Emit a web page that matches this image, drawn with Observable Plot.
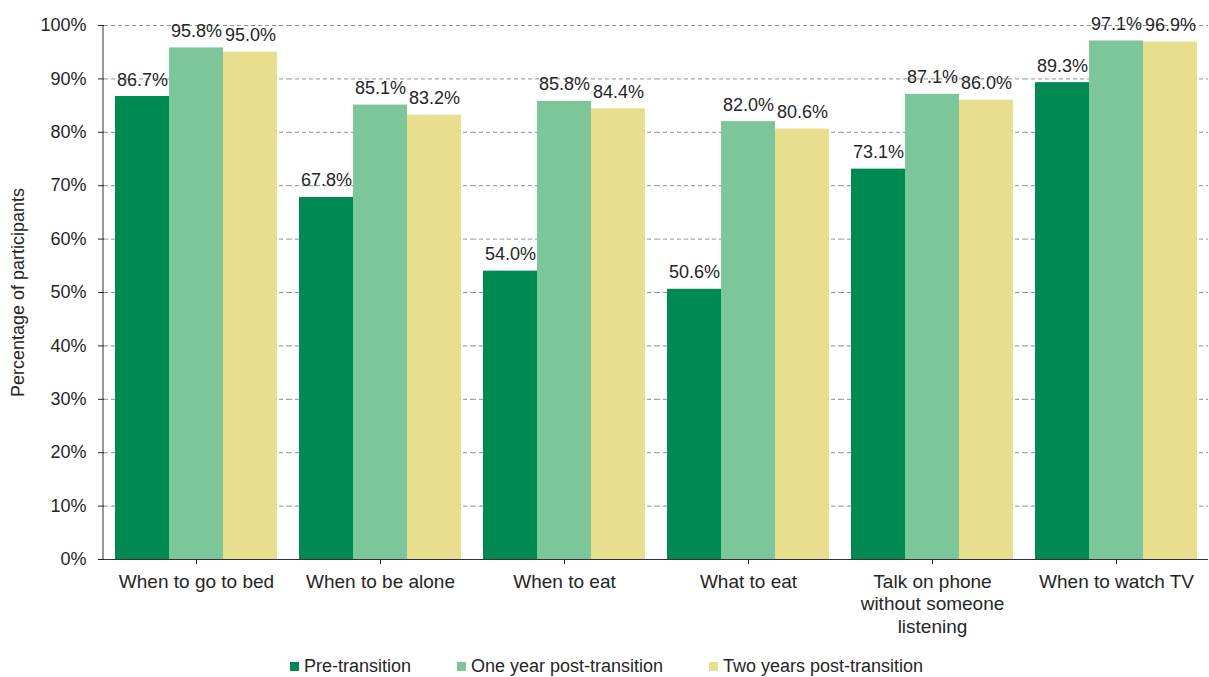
<!DOCTYPE html>
<html><head><meta charset="utf-8">
<script src="https://cdn.jsdelivr.net/npm/d3@7"></script>
<script src="https://cdn.jsdelivr.net/npm/@observablehq/plot@0.6"></script>
<style>
html,body{margin:0;padding:0;background:#fff;overflow:hidden}
body{font-family:"Liberation Sans",Arial,sans-serif;color:#262626}
#legend{display:flex;justify-content:center;gap:46px;font-size:18px;height:26px;align-items:center;padding-left:4px;margin-top:3px}
.item{display:flex;align-items:center}
.sw{width:9px;height:9px;margin-right:5px;display:inline-block}
</style></head><body><div id="chart"></div><div id="legend"></div>
<script>
const categories = ["When to go to bed", "When to be alone", "When to eat", "What to eat", "Talk on phone\nwithout someone\nlistening", "When to watch TV"];
const series = ["Pre-transition", "One year post-transition", "Two years post-transition"];
const preTransition = [86.7, 67.8, 54.0, 50.6, 73.1, 89.3];
const oneYearPost = [95.8, 85.1, 85.8, 82.0, 87.1, 97.1];
const twoYearsPost = [95.0, 83.2, 84.4, 80.6, 86.0, 96.9];
const yTicks = [0, 10, 20, 30, 40, 50, 60, 70, 80, 90, 100];
const colors = ["#008a52", "#7cc699", "#e8df8e"];

const seriesValues = [preTransition, oneYearPost, twoYearsPost];
const data = [];
categories.forEach((c, i) => seriesValues.forEach((arr, j) => data.push({category: c, series: series[j], value: arr[i]})));

const marginLeft = 103;
const textColor = "#262626";

const chart = Plot.plot({
  width: 1209, height: 650,
  marginLeft, marginRight: 0, marginTop: 25, marginBottom: 91,
  style: {fontFamily: "'Liberation Sans', Arial, sans-serif", fontSize: "18px", color: textColor, background: "#fff", overflow: "visible"},
  fx: {domain: categories, padding: 0, label: null},
  x: {domain: series, paddingInner: 0, paddingOuter: 0.173, axis: null},
  y: {domain: [0, 100], label: null},
  color: {domain: series, range: colors},
  marks: [
    Plot.gridY(yTicks.filter(t => t > 0), {stroke: "#8f8f8f", strokeOpacity: 1, strokeDasharray: "4,3"}),
    Plot.barY(data, {fx: "category", x: "series", y: "value", fill: "series"}),
    Plot.text(data, {fx: "category", x: "series", y: "value", text: d => d.value.toFixed(1) + "%", lineAnchor: "bottom", dy: -11, fontSize: 18, fill: textColor}),
    Plot.ruleY([0], {stroke: "#333"}),
    Plot.axisY({ticks: yTicks, tickFormat: d => d + "%", tickSize: 6, tickPadding: 12, fontSize: 18, label: "Percentage of participants", labelArrow: "none", labelAnchor: "center", labelOffset: 93}),
    Plot.axisFx({anchor: "bottom", tickSize: 5, tickPadding: 7, fontSize: 19, lineHeight: 1.2, label: null})
  ]
});

const y = chart.scale("y");
d3.select(chart).append("line")
  .attr("x1", marginLeft).attr("x2", marginLeft)
  .attr("y1", y.apply(0)).attr("y2", y.apply(100))
  .attr("stroke", "#333");

document.getElementById("chart").appendChild(chart);

const legend = d3.select("#legend");
series.forEach((s, i) => {
  const it = legend.append("div").attr("class", "item");
  it.append("span").attr("class", "sw").style("background", colors[i]);
  it.append("span").text(s);
});
</script></body></html>
